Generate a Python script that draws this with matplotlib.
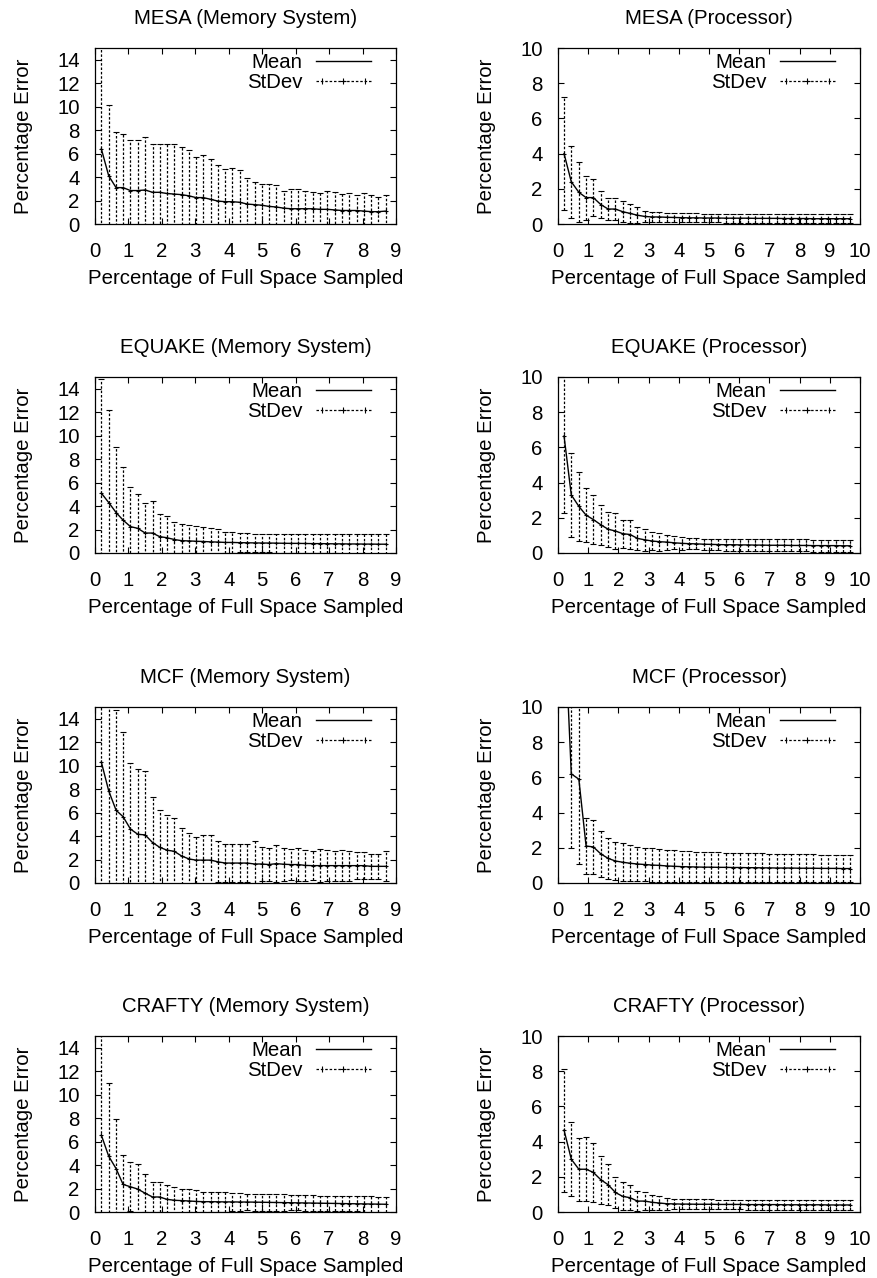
import matplotlib
matplotlib.use('Agg')
import matplotlib.pyplot as plt
from matplotlib.lines import Line2D
from matplotlib.legend_handler import HandlerLine2D, HandlerTuple

plt.rcParams['font.family'] = ['Liberation Sans', 'DejaVu Sans']
FS = 14.7

# ---------------- data ----------------
x_mem = [0.19, 0.41, 0.63, 0.84, 1.06, 1.28, 1.50, 1.72, 1.93, 2.15,
         2.37, 2.59, 2.81, 3.02, 3.24, 3.46, 3.68, 3.90, 4.11, 4.33,
         4.55, 4.77, 4.99, 5.20, 5.42, 5.64, 5.86, 6.08, 6.29, 6.51,
         6.73, 6.95, 7.17, 7.38, 7.60, 7.82, 8.04, 8.26, 8.47, 8.69]
x_proc = [0.20, 0.44, 0.69, 0.93, 1.17, 1.42, 1.66, 1.90, 2.14, 2.39,
          2.63, 2.87, 3.12, 3.36, 3.60, 3.85, 4.09, 4.33, 4.57, 4.82,
          5.06, 5.30, 5.55, 5.79, 6.03, 6.28, 6.52, 6.76, 7.00, 7.25,
          7.49, 7.73, 7.98, 8.22, 8.46, 8.71, 8.95, 9.19, 9.43, 9.68]

mesa_mem_mean = [6.4, 4.1, 3.1, 3.1, 2.85, 2.85, 2.9, 2.7, 2.7, 2.6,
                 2.55, 2.5, 2.4, 2.25, 2.25, 2.1, 1.95, 1.9, 1.9, 1.85,
                 1.7, 1.65, 1.6, 1.5, 1.45, 1.35, 1.3, 1.3, 1.3, 1.3,
                 1.25, 1.25, 1.2, 1.15, 1.15, 1.15, 1.1, 1.05, 1.05, 1.1]
mesa_mem_std = [9.6, 6.0, 4.7, 4.6, 4.3, 4.3, 4.5, 4.15, 4.15, 4.25,
                4.25, 4.05, 3.9, 3.45, 3.6, 3.45, 3.05, 2.8, 2.9, 2.75,
                2.25, 1.95, 1.85, 1.95, 1.85, 1.5, 1.65, 1.65, 1.55, 1.45,
                1.4, 1.55, 1.5, 1.4, 1.5, 1.35, 1.5, 1.4, 1.25, 1.35]

mesa_proc_mean = [4.0, 2.4, 1.8, 1.5, 1.5, 1.1, 0.85, 0.85, 0.7, 0.6,
                  0.5, 0.43, 0.4, 0.4, 0.38, 0.37, 0.36, 0.35, 0.35, 0.34,
                  0.34, 0.34, 0.33, 0.33, 0.33, 0.33, 0.32, 0.32, 0.32, 0.32,
                  0.31, 0.31, 0.31, 0.31, 0.3, 0.3, 0.3, 0.3, 0.3, 0.3]
mesa_proc_std = [3.2, 2.05, 1.7, 1.25, 1.05, 0.75, 0.6, 0.6, 0.6, 0.55,
                 0.45, 0.32, 0.3, 0.28, 0.27, 0.26, 0.25, 0.25, 0.25, 0.25,
                 0.25, 0.25, 0.25, 0.25, 0.25, 0.25, 0.25, 0.25, 0.25, 0.25,
                 0.24, 0.24, 0.24, 0.24, 0.24, 0.24, 0.24, 0.24, 0.24, 0.24]

equake_mem_mean = [5.1, 4.3, 3.45, 2.8, 2.25, 2.1, 1.7, 1.7, 1.4, 1.3,
                   1.15, 1.05, 1.03, 1.0, 0.98, 0.95, 0.93, 0.9, 0.9, 0.88,
                   0.87, 0.86, 0.85, 0.85, 0.84, 0.83, 0.82, 0.82, 0.81, 0.8,
                   0.8, 0.79, 0.78, 0.78, 0.77, 0.77, 0.76, 0.76, 0.75, 0.75]
equake_mem_std = [9.7, 7.85, 5.55, 4.5, 3.35, 2.9, 2.6, 2.75, 1.9, 1.85,
                  1.5, 1.4, 1.32, 1.3, 1.22, 1.15, 1.12, 0.9, 0.9, 0.82,
                  0.8, 0.8, 0.8, 0.8, 0.8, 0.8, 0.8, 0.8, 0.8, 0.8,
                  0.82, 0.82, 0.82, 0.83, 0.83, 0.85, 0.85, 0.85, 0.87, 0.87]

equake_proc_mean = [6.65, 3.3, 2.65, 2.15, 1.9, 1.6, 1.35, 1.25, 1.1, 1.05,
                    0.83, 0.75, 0.68, 0.64, 0.62, 0.58, 0.55, 0.53, 0.52, 0.5,
                    0.49, 0.48, 0.47, 0.47, 0.46, 0.46, 0.45, 0.45, 0.44, 0.44,
                    0.44, 0.43, 0.43, 0.43, 0.42, 0.42, 0.42, 0.42, 0.41, 0.41]
equake_proc_std = [4.4, 2.37, 1.95, 1.52, 1.4, 1.15, 1.0, 1.0, 0.8, 0.85,
                   0.67, 0.63, 0.52, 0.51, 0.43, 0.38, 0.37, 0.32, 0.32, 0.32,
                   0.32, 0.32, 0.33, 0.33, 0.33, 0.33, 0.33, 0.33, 0.34, 0.34,
                   0.34, 0.34, 0.34, 0.34, 0.34, 0.34, 0.34, 0.34, 0.34, 0.34]

mcf_mem_mean = [10.3, 7.85, 6.2, 5.65, 4.6, 4.15, 4.1, 3.45, 3.05, 2.8,
                2.7, 2.3, 2.05, 1.95, 1.95, 1.95, 1.8, 1.7, 1.7, 1.7,
                1.7, 1.62, 1.62, 1.57, 1.65, 1.6, 1.57, 1.57, 1.5, 1.48,
                1.48, 1.48, 1.48, 1.48, 1.48, 1.48, 1.48, 1.42, 1.42, 1.42]
mcf_mem_std = [10.5, 8.5, 8.55, 7.25, 5.65, 5.55, 5.45, 3.85, 3.2, 3.0,
               2.85, 2.4, 2.25, 1.95, 2.1, 2.1, 1.75, 1.6, 1.6, 1.6,
               1.6, 1.93, 1.43, 1.43, 1.55, 1.4, 1.33, 1.43, 1.35, 1.22,
               1.42, 1.32, 1.27, 1.32, 1.27, 1.17, 1.12, 1.08, 1.08, 1.28]

mcf_proc_mean = [15.5, 6.2, 5.9, 2.1, 2.05, 1.65, 1.4, 1.25, 1.18, 1.12,
                 1.08, 1.05, 1.02, 1.0, 0.97, 0.95, 0.93, 0.92, 0.91, 0.9,
                 0.9, 0.89, 0.89, 0.88, 0.88, 0.87, 0.87, 0.86, 0.86, 0.85,
                 0.85, 0.85, 0.84, 0.84, 0.84, 0.83, 0.83, 0.83, 0.82, 0.82]
mcf_proc_std = [4.0, 4.2, 4.8, 1.6, 1.55, 1.3, 1.17, 1.07, 1.07, 1.03,
                0.97, 0.95, 0.95, 0.93, 0.91, 0.9, 0.89, 0.88, 0.87, 0.86,
                0.85, 0.85, 0.84, 0.84, 0.83, 0.83, 0.82, 0.82, 0.81, 0.81,
                0.8, 0.8, 0.79, 0.79, 0.78, 0.78, 0.77, 0.77, 0.76, 0.76]

crafty_mem_mean = [6.55, 4.75, 3.7, 2.35, 2.15, 1.95, 1.6, 1.28, 1.28, 1.08,
                   1.0, 0.97, 0.94, 0.9, 0.88, 0.88, 0.87, 0.86, 0.86, 0.85,
                   0.85, 0.84, 0.83, 0.82, 0.81, 0.8, 0.79, 0.78, 0.77, 0.76,
                   0.75, 0.74, 0.73, 0.72, 0.71, 0.7, 0.69, 0.68, 0.67, 0.66]
crafty_mem_std = [9.5, 6.25, 4.25, 2.55, 2.1, 2.1, 1.6, 1.27, 1.27, 1.19,
                  1.13, 1.03, 0.98, 0.95, 0.85, 0.85, 0.83, 0.83, 0.77, 0.77,
                  0.72, 0.72, 0.72, 0.72, 0.72, 0.72, 0.65, 0.65, 0.65, 0.65,
                  0.65, 0.65, 0.65, 0.65, 0.65, 0.65, 0.65, 0.65, 0.65, 0.65]

crafty_proc_mean = [4.65, 3.0, 2.43, 2.43, 2.25, 1.83, 1.55, 1.11, 0.89, 0.81,
                    0.62, 0.62, 0.55, 0.51, 0.47, 0.46, 0.45, 0.45, 0.44, 0.44,
                    0.44, 0.43, 0.43, 0.43, 0.43, 0.42, 0.42, 0.42, 0.42, 0.42,
                    0.41, 0.41, 0.41, 0.41, 0.41, 0.41, 0.4, 0.4, 0.4, 0.4]
crafty_proc_std = [3.5, 2.1, 1.78, 1.83, 1.68, 1.36, 1.15, 0.87, 0.79, 0.7,
                   0.55, 0.53, 0.43, 0.38, 0.34, 0.3, 0.29, 0.29, 0.28, 0.28,
                   0.28, 0.28, 0.28, 0.28, 0.28, 0.28, 0.28, 0.28, 0.28, 0.28,
                   0.28, 0.28, 0.28, 0.28, 0.27, 0.27, 0.27, 0.27, 0.27, 0.27]

titles = ["MESA (Memory System)", "MESA (Processor)",
          "EQUAKE (Memory System)", "EQUAKE (Processor)",
          "MCF (Memory System)", "MCF (Processor)",
          "CRAFTY (Memory System)", "CRAFTY (Processor)"]
means = [mesa_mem_mean, mesa_proc_mean, equake_mem_mean, equake_proc_mean,
         mcf_mem_mean, mcf_proc_mean, crafty_mem_mean, crafty_proc_mean]
stds = [mesa_mem_std, mesa_proc_std, equake_mem_std, equake_proc_std,
        mcf_mem_std, mcf_proc_std, crafty_mem_std, crafty_proc_std]

mem_xticks = [0, 1, 2, 3, 4, 5, 6, 7, 8, 9]
proc_xticks = [0, 1, 2, 3, 4, 5, 6, 7, 8, 9, 10]
mem_yticks = [0, 2, 4, 6, 8, 10, 12, 14]
proc_yticks = [0, 2, 4, 6, 8, 10]

# ---------------- layout ----------------
W, H = 877, 1278
fig = plt.figure(figsize=(W / 100, H / 100), dpi=100)

col_left = [95, 558]
col_width = [301, 302]
row_top = [48, 377, 707, 1036]
ax_h = 176

dash = (0, (2.0, 1.5))

for k in range(8):
    r, c = divmod(k, 2)
    is_mem = (c == 0)
    xs = x_mem if is_mem else x_proc
    left = col_left[c] / W
    bottom = 1 - (row_top[r] + ax_h) / H
    ax = fig.add_axes([left, bottom, col_width[c] / W, ax_h / H])

    ax.plot(xs, means[k], color='black', lw=1.0, zorder=3)
    eb = ax.errorbar(xs, means[k], yerr=stds[k], fmt='+', ms=3.5, mew=0.8,
                     color='black', ecolor='black', elinewidth=0.9,
                     capsize=2.5, capthick=0.8, zorder=2)
    for lc in eb[2]:
        lc.set_linestyle(dash)

    ax.set_xlim(0, 9 if is_mem else 10)
    ax.set_ylim(0, 15 if is_mem else 10)
    ax.set_xticks(mem_xticks if is_mem else proc_xticks)
    ax.set_yticks(mem_yticks if is_mem else proc_yticks)
    ax.tick_params(direction='in', top=True, right=True, length=4,
                   width=0.8, labelsize=FS)
    ax.tick_params(axis='x', pad=13)
    ax.tick_params(axis='y', pad=11)
    for s in ax.spines.values():
        s.set_linewidth(0.9)

    ax.set_title(titles[k], fontsize=FS, pad=17)
    ax.set_xlabel("Percentage of Full Space Sampled", fontsize=FS, labelpad=6)
    ax.set_ylabel("Percentage Error", fontsize=FS)
    ax.yaxis.set_label_coords(-0.205, 0.5)

    h_mean = Line2D([], [], color='black', lw=1.0)
    h_std = Line2D([], [], color='black', lw=0.9, ls=dash, marker='+',
                   ms=4, mew=0.8)
    h_caps = Line2D([], [], color='black', ls='none', marker='|', ms=4,
                    mew=0.8)
    ax.legend([h_mean, (h_std, h_caps)], ["Mean", "StDev"],
              handler_map={h_std: HandlerLine2D(numpoints=1),
                           h_caps: HandlerLine2D(numpoints=2),
                           tuple: HandlerTuple(ndivide=1, pad=0)},
              loc='upper right', bbox_to_anchor=(0.917, 0.97),
              frameon=False, fontsize=FS, markerfirst=False,
              handlelength=2.7, handletextpad=0.65, borderpad=0,
              borderaxespad=0, labelspacing=0.05)

fig.savefig("out.png", dpi=100)
